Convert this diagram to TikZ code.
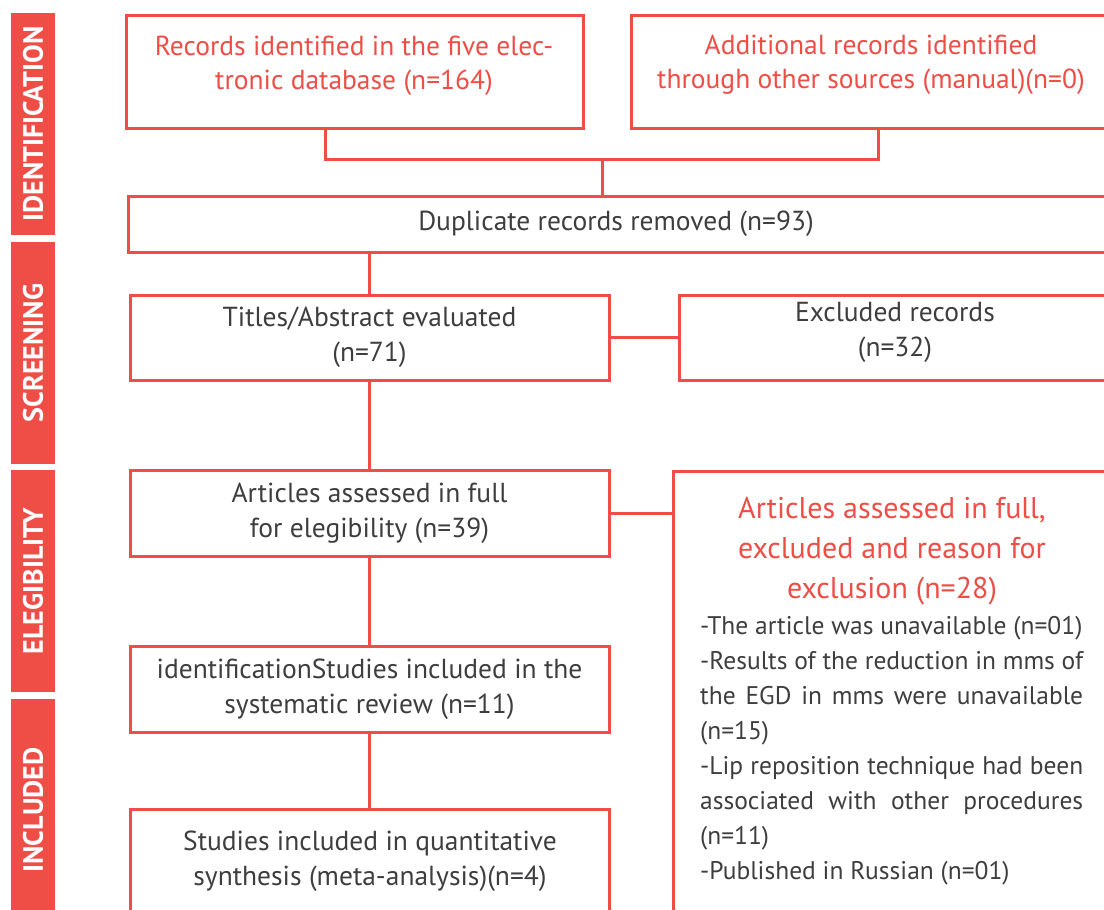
\documentclass[tikz,border=0pt]{standalone}
\usepackage{fontspec}
\setmainfont{PT Sans}
\definecolor{flowred}{RGB}{239,78,71}
\definecolor{flowtext}{RGB}{62,62,64}
\begin{document}
\begin{tikzpicture}[x=1pt,y=-1pt,
    frame/.style={draw=flowred,line width=3pt,inner sep=0pt,align=center,
      text=flowtext,font=\fontsize{27.5}{35}\selectfont},
    redlabel/.style={inner sep=0pt,align=center,text=flowred,
      font=\fontsize{27.5}{34}\selectfont},
    darklabel/.style={inner sep=0pt,align=center,text=flowtext,
      font=\fontsize{27.5}{35}\selectfont},
    band/.style={fill=flowred,rotate=90,inner sep=0pt,minimum width=222pt,
      minimum height=44pt,text=white,font=\bfseries\fontsize{28}{30}\selectfont},
    link/.style={draw=flowred,line width=3pt}]
  \clip (0,0) rectangle (1104,910);
  \fill[white] (0,0) rectangle (1104,910);
  % phase bands
  \node[band] (identification) at (33,124) {IDENTIFICATION};
  \node[band] (screening) at (33,353) {SCREENING};
  \node[band] (elegibility) at (33,581) {ELEGIBILITY};
  \node[band] (included) at (33,810) {INCLUDED};
  % boxes
  \node[frame,minimum width=457pt,minimum height=113pt] (rec) at (354.5,71.5) {};
  \node[redlabel] (rectext) at (354,66) {Records identified in the five elec-\\tronic database (n=164)};
  \node[frame,minimum width=489pt,minimum height=113pt] (add) at (875.5,71.5) {};
  \node[redlabel] (addtext) at (871,65) {Additional records identified\\through other sources (manual)(n=0)};
  \node[frame,minimum width=992pt,minimum height=56pt] (dup) at (624,224) {};
  \node[darklabel] (duptext) at (616,224) {Duplicate records removed (n=93)};
  \node[frame,minimum width=479pt,minimum height=85pt] (titles) at (369.5,337.5)
    {Titles/Abstract evaluated\\(n=71)};
  \node[frame,minimum width=441pt,minimum height=85pt] (excl) at (899.5,337.5) {};
  \node[darklabel] (excltext) at (895,332.5) {Excluded records\\(n=32)};
  \node[frame,minimum width=479pt,minimum height=86pt] (art) at (369.5,513)
    {Articles assessed in full\\for elegibility (n=39)};
  \node[frame,minimum width=447pt,minimum height=459pt] (reason) at (896.5,700.5) {};
  \node[redlabel,font=\fontsize{30}{40}\selectfont] (reasontitle) at (892,551)
    {Articles assessed in full,\\excluded and reason for\\exclusion (n=28)};
  \node[anchor=north west,inner sep=0pt,align=left,text=flowtext,
    font=\fontsize{25.5}{35}\selectfont] (reasonlist) at (700,616)
    {-The article was unavailable (n=01)\\
     \makebox[383pt][s]{-Results of the reduction in mms of}\\
     \makebox[383pt][s]{the EGD in mms were unavailable}\\
     (n=15)\\
     \makebox[383pt][s]{-Lip reposition technique had been}\\
     \makebox[383pt][s]{associated with other procedures}\\
     (n=11)\\
     -Published in Russian (n=01)};
  \node[frame,minimum width=479pt,minimum height=86pt] (ident) at (369.5,689)
    {identificationStudies included in the\\systematic review (n=11)};
  \node[frame,minimum width=479pt,minimum height=121pt] (quant) at (369.5,869.5) {};
  \node[darklabel] (quanttext) at (370,861)
    {Studies included in quantitative\\synthesis (meta-analysis)(n=4)};
  % connectors
  \coordinate (join) at (602,159);
  \draw[link] ([xshift=-29.5pt]rec.south) |- (join) -| ([xshift=2.5pt]add.south);
  \draw[link] (join) -- (join |- dup.north);
  \draw[link] (titles.north |- dup.south) -- (titles.north);
  \draw[link] (titles) -- (excl);
  \draw[link] (titles) -- (art);
  \draw[link] (art.east) -- (art.east -| reason.west);
  \draw[link] (art) -- (ident);
  \draw[link] (ident) -- (quant);
\end{tikzpicture}
\end{document}
